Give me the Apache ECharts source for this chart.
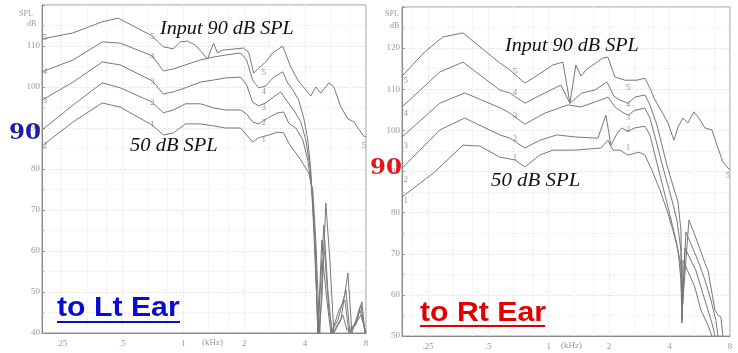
<!DOCTYPE html>
<html><head><meta charset="utf-8">
<script src="https://cdn.jsdelivr.net/npm/echarts@6/dist/echarts.min.js"></script>
<style>html,body{margin:0;padding:0;background:#fff}#c{width:738px;height:353px}</style>
</head><body><div id="c"></div>
<script>
// ---- Left panel "to Lt Ear": [frequency kHz, output dB SPL], curves 1..5 (input 50..90 dB SPL)
const lt5 = [[0.2,111.7],[0.285,113.2],[0.397,115.9],[0.476,116.8],[0.686,112.7],[0.744,111.2],[0.796,109.8],[0.893,109.3],[0.967,111.0],[1.047,111.2],[1.148,110.2],[1.243,108.3],[1.316,106.8],[1.410,110.7],[1.475,108.3],[1.562,109.0],[1.985,109.5],[2.102,108.5],[2.226,103.4],[2.356,104.6],[2.553,106.1],[2.765,108.3],[3.099,110.0],[3.396,104.9],[3.678,101.7],[4.030,99.3],[4.267,97.8],[4.517,100.0],[4.783,98.5],[5.240,101.0],[5.548,100.0],[6.012,95.1],[6.512,92.2],[6.975,91.5],[7.299,90.0],[7.815,88.0],[8.0,87.8]];
const lt4 = [[0.2,103.7],[0.285,106.6],[0.397,111.0],[0.487,110.7],[0.702,107.6],[0.796,103.9],[0.893,104.4],[1.024,105.4],[1.215,106.6],[1.410,107.3],[1.616,107.8],[1.919,108.3],[2.055,106.6],[2.200,101.7],[2.356,99.8],[2.553,100.2],[2.797,102.4],[3.099,103.7],[3.281,101.0],[3.474,99.3],[3.720,96.8],[3.939,92.4],[4.123,87.1],[4.267,79.8],[4.415,65.1],[4.569,48.0],[4.675,40.0],[4.838,48.0],[5.063,71.7],[5.300,57.8],[5.548,40.0],[6.012,43.2],[6.512,54.6],[6.818,40.0],[7.383,45.6],[7.639,47.6],[7.905,40.0]];
const lt3 = [[0.2,96.8],[0.285,101.2],[0.397,106.1],[0.487,105.4],[0.702,101.5],[0.796,98.3],[0.893,98.8],[1.024,99.8],[1.215,101.2],[1.410,101.7],[1.616,102.2],[1.919,102.4],[2.055,100.5],[2.200,96.3],[2.356,95.4],[2.553,96.1],[2.797,97.6],[3.029,98.8],[3.281,96.3],[3.514,94.4],[3.806,91.5],[4.030,87.1],[4.218,81.0],[4.365,72.4],[4.517,57.8],[4.622,40.0],[4.783,52.9],[4.949,66.3],[5.181,50.5],[5.423,40.0],[5.876,45.6],[6.293,48.0],[6.587,40.0],[7.217,43.2],[7.553,46.8],[7.905,40.0]];
const lt2 = [[0.2,89.5],[0.285,95.6],[0.397,101.0],[0.487,99.8],[0.702,96.3],[0.796,93.7],[0.893,94.4],[1.024,95.9],[1.215,95.9],[1.410,94.9],[1.616,94.4],[1.919,94.4],[2.055,93.4],[2.200,91.5],[2.356,91.0],[2.612,92.4],[2.927,93.7],[3.135,93.9],[3.319,91.2],[3.595,90.0],[3.894,87.1],[4.123,82.2],[4.315,74.9],[4.466,62.7],[4.622,40.0],[4.838,62.7],[5.006,59.0],[5.240,45.6],[5.485,40.0],[6.150,44.4],[6.438,40.7],[7.135,42.0],[7.467,45.6],[8.0,40.0]];
const lt1 = [[0.2,85.6],[0.285,91.5],[0.397,96.1],[0.487,95.1],[0.702,90.7],[0.796,88.3],[0.893,88.8],[1.024,91.0],[1.215,91.0],[1.410,90.5],[1.616,90.0],[1.919,90.0],[2.055,88.3],[2.200,86.6],[2.356,87.6],[2.642,88.3],[2.927,89.0],[3.135,88.8],[3.319,86.3],[3.514,84.6],[3.806,82.2],[4.170,79.0],[4.365,74.9],[4.517,62.7],[4.622,50.5],[4.728,40.0],[4.893,57.8],[5.122,48.0],[5.361,40.0],[5.810,43.2],[6.365,50.5],[6.663,40.0],[7.553,44.4],[8.0,40.0]];

// ---- Right panel "to Rt Ear"
const rt5 = [[0.186,113.2],[0.2415,119.1],[0.297,122.7],[0.374,123.7],[0.571,116.4],[0.641,114.7],[0.761,111.5],[0.854,113.0],[1.049,115.9],[1.177,116.6],[1.276,106.6],[1.366,115.9],[1.447,113.2],[1.550,114.9],[1.863,117.6],[1.973,117.8],[2.137,113.0],[2.398,112.2],[2.751,112.2],[3.016,112.7],[3.194,110.3],[3.383,107.4],[3.625,104.9],[3.926,101.8],[4.207,97.6],[4.405,100.8],[4.664,103.0],[4.939,101.8],[5.285,104.5],[5.597,103.0],[6.005,100.6],[6.505,100.1],[6.887,96.4],[7.377,92.3],[8.0,90.3]];
const rt4 = [[0.186,105.7],[0.287,114.2],[0.374,116.6],[0.571,109.8],[0.641,109.1],[0.761,106.6],[0.957,109.1],[1.150,111.0],[1.276,106.6],[1.464,109.1],[1.699,109.8],[1.950,111.8],[2.113,108.3],[2.263,107.4],[2.481,106.6],[2.689,108.1],[3.016,108.6],[3.194,106.2],[3.461,101.3],[3.666,96.4],[3.881,91.6],[4.111,87.4],[4.405,82.6],[4.558,75.7],[4.611,55.5],[4.996,78.2],[5.533,72.6],[6.005,67.7],[6.214,66.0],[6.731,56.3],[6.967,55.1],[7.209,54.6],[7.377,50.0]];
const rt3 = [[0.186,98.4],[0.287,106.6],[0.382,109.1],[0.578,105.4],[0.641,104.2],[0.761,101.5],[0.957,104.2],[1.247,106.2],[1.447,105.7],[1.820,107.4],[1.973,108.1],[2.137,105.7],[2.315,104.5],[2.481,103.7],[2.689,104.9],[3.016,105.4],[3.194,103.0],[3.422,97.6],[3.625,92.8],[3.837,88.4],[4.111,83.0],[4.354,78.2],[4.558,70.9],[4.611,54.3],[4.827,75.3],[5.533,68.4],[6.005,63.6],[6.431,58.7],[6.809,53.8],[6.967,50.0]];
const rt2 = [[0.186,90.8],[0.287,100.1],[0.382,103.0],[0.571,98.9],[0.641,98.1],[0.761,95.7],[0.904,97.6],[1.099,98.9],[1.351,98.4],[1.759,98.1],[1.928,103.7],[2.041,96.4],[2.212,99.6],[2.315,100.6],[2.481,99.8],[2.689,100.6],[3.016,101.0],[3.194,98.9],[3.383,94.0],[3.583,89.1],[3.793,84.3],[4.018,79.4],[4.304,73.3],[4.558,67.2],[4.611,53.8],[4.772,71.4],[5.408,66.0],[5.727,61.9],[6.214,56.3],[6.505,53.1],[6.731,50.0]];
const rt1 = [[0.186,83.8],[0.271,89.9],[0.374,96.4],[0.454,96.2],[0.571,93.5],[0.679,92.8],[0.761,91.1],[0.904,94.0],[1.049,95.2],[1.351,95.2],[1.820,95.7],[1.973,97.6],[2.089,95.2],[2.263,95.2],[2.481,94.0],[2.815,94.7],[3.016,94.0],[3.268,90.3],[3.583,85.5],[3.881,80.6],[4.159,75.7],[4.405,70.9],[4.558,63.6],[4.611,53.1],[4.664,68.4],[5.346,61.9],[5.727,56.3],[6.214,52.6],[6.505,50.0]];

// curve number annotations: [kHz, dB, text]
const ltCurveLabels = [[0.207,112.0,'5'],[0.207,103.7,'4'],[0.207,96.6,'3'],[0.207,85.6,'2'],
  [0.702,112.2,'5'],[0.702,107.3,'4'],[0.702,101.2,'3'],[0.702,96.3,'2'],[0.702,90.7,'1'],
  [2.494,103.4,'5'],[2.494,98.8,'4'],[2.494,94.9,'3'],[2.494,91.2,'2'],[2.494,87.1,'1'],[7.8,85.6,'5']];
const rtCurveLabels = [[0.194,112.2,'5'],[0.194,104.0,'4'],[0.194,96.4,'3'],[0.194,87.9,'2'],[0.194,83.0,'1'],
  [0.679,114.2,'5'],[0.679,109.1,'4'],[0.679,103.7,'3'],[0.679,98.1,'2'],[0.679,93.3,'1'],
  [2.481,110.3,'5'],[2.481,106.2,'4'],[2.481,103.2,'3'],[2.481,100.1,'2'],[2.481,95.9,'1'],[7.8,89.1,'5']];

const xTickValues = [0.25, 0.5, 1, 2, 4, 8];
const xTickLabels = ['.25', '.5', '1', '2', '4', '8'];
const ltYRange = [40, 120];
const rtYRange = [50, 130];

const chart = echarts.init(document.getElementById('c'), null, {renderer: 'canvas'});
const serif = '"Liberation Serif", "DejaVu Serif", serif';
const curveColor = '#787878';

function xAxis(gi, minF) {
  return {
    type: 'log', logBase: 2, gridIndex: gi, min: minF, max: 8,
    axisLine: {show: true, lineStyle: {color: '#888'}},
    axisTick: {show: false},
    axisLabel: {
      color: '#999', fontSize: 9, fontFamily: serif, margin: 6, showMinLabel: false,
      formatter: v => { const i = xTickValues.findIndex(t => Math.abs(t - v) < 1e-6); return i >= 0 ? xTickLabels[i] : ''; }
    },
    splitLine: {show: true, lineStyle: {color: '#e2e2e2', type: 'dotted'}},
    minorTick: {show: false, splitNumber: 3},
    minorSplitLine: {show: true, lineStyle: {color: '#ececec', type: 'dotted'}}
  };
}
function yAxis(gi, range) {
  return {
    type: 'value', gridIndex: gi, min: range[0], max: range[1], interval: 10,
    axisLine: {show: true, lineStyle: {color: '#888'}},
    axisTick: {show: true, inside: true, length: 3, lineStyle: {color: '#999'}},
    minorTick: {show: true, splitNumber: 2, length: 2, lineStyle: {color: '#aaa'}},
    axisLabel: {color: '#999', fontSize: 9, fontFamily: serif, margin: 2, showMaxLabel: false},
    splitLine: {show: true, lineStyle: {color: '#e2e2e2', type: 'dotted'}},
    minorSplitLine: {show: true, lineStyle: {color: '#ececec', type: 'dotted'}}
  };
}
function curve(data, gi, name) {
  return {type: 'line', name, xAxisIndex: gi, yAxisIndex: gi, data, symbol: 'none', clip: true,
    lineStyle: {color: curveColor, width: 1}, silent: true, animation: false, z: 3};
}
function labelSeries(labels, gi) {
  return {type: 'scatter', xAxisIndex: gi, yAxisIndex: gi, symbolSize: 0, silent: true, animation: false, z: 4,
    data: labels.map(l => ({value: [l[0], l[1]], name: l[2]})),
    label: {show: true, position: 'inside', formatter: p => p.name, color: '#808080', fontSize: 9, fontFamily: serif}};
}

function txt(x, y, text, style, extra) {
  return Object.assign({type: 'text', x, y, style: Object.assign({text}, style), silent: true, z: 10}, extra || {});
}

const option = {
  backgroundColor: '#fff',
  animation: false,
  grid: [
    {left: 42, top: 5, width: 324, height: 328, show: true, borderColor: '#999', borderWidth: 1, backgroundColor: '#fff'},
    {left: 402, top: 7, width: 328, height: 329, show: true, borderColor: '#999', borderWidth: 1, backgroundColor: '#fff'}
  ],
  xAxis: [xAxis(0, 0.2), xAxis(1, 0.186)],
  yAxis: [yAxis(0, ltYRange), yAxis(1, rtYRange)],
  series: [
    curve(lt1, 0, 'L1'), curve(lt2, 0, 'L2'), curve(lt3, 0, 'L3'), curve(lt4, 0, 'L4'), curve(lt5, 0, 'L5'),
    curve(rt1, 1, 'R1'), curve(rt2, 1, 'R2'), curve(rt3, 1, 'R3'), curve(rt4, 1, 'R4'), curve(rt5, 1, 'R5'),
    labelSeries(ltCurveLabels, 0), labelSeries(rtCurveLabels, 1)
  ],
  graphic: [
    txt(19, 10, 'SPL', {fill: '#999', font: '8px ' + serif}),
    txt(27, 20, 'dB', {fill: '#999', font: '8px ' + serif}),
    txt(385, 10, 'SPL', {fill: '#999', font: '8px ' + serif}),
    txt(390, 22, 'dB', {fill: '#999', font: '8px ' + serif}),
    txt(202, 338, '(kHz)', {fill: '#999', font: '9px ' + serif}),
    txt(561, 341, '(kHz)', {fill: '#999', font: '9px ' + serif}),
    txt(160, 20, 'Input 90 dB SPL', {fill: '#111', font: 'italic 18px ' + serif}, {scaleX: 1.12}),
    txt(130, 137, '50 dB SPL', {fill: '#111', font: 'italic 18px ' + serif}, {scaleX: 1.14}),
    txt(505, 37, 'Input 90 dB SPL', {fill: '#111', font: 'italic 18px ' + serif}, {scaleX: 1.12}),
    txt(491, 172, '50 dB SPL', {fill: '#111', font: 'italic 18px ' + serif}, {scaleX: 1.16}),
    txt(9, 122, '90', {fill: '#1c1ca8', font: 'bold 23px "DejaVu Serif", serif'}),
    txt(370, 157, '90', {fill: '#e01818', font: 'bold 23px "DejaVu Serif", serif'}),
    txt(57, 294, 'to Lt Ear', {fill: '#0a0ad0', font: 'bold 28px "Liberation Sans", Arial, sans-serif'}, {scaleX: 1.08}),
    {type: 'line', shape: {x1: 57, y1: 322, x2: 180, y2: 322}, style: {stroke: '#0a0ad0', lineWidth: 2}, silent: true, z: 10},
    txt(420, 299, 'to Rt Ear', {fill: '#e00000', font: 'bold 28px "Liberation Sans", Arial, sans-serif'}, {scaleX: 1.08}),
    {type: 'line', shape: {x1: 420, y1: 326, x2: 545, y2: 326}, style: {stroke: '#e00000', lineWidth: 2}, silent: true, z: 10}
  ]
};
chart.setOption(option);
</script>
</body></html>
